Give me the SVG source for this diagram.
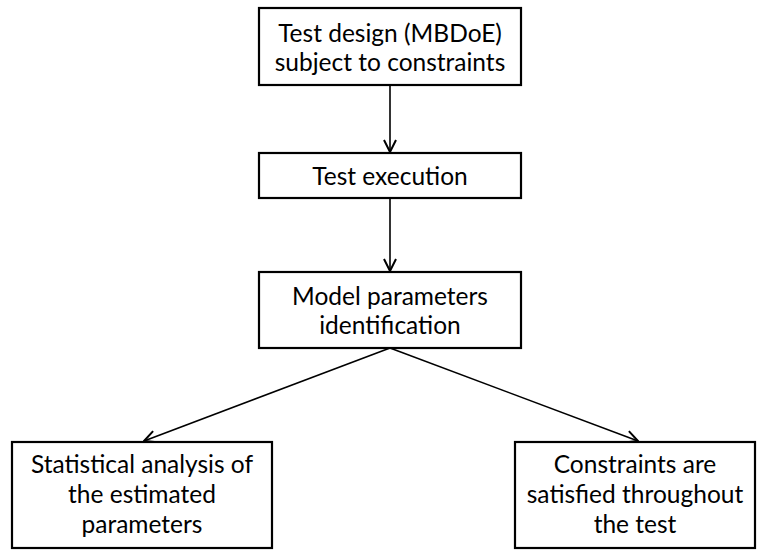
<svg xmlns="http://www.w3.org/2000/svg" width="757" height="550" viewBox="0 0 757 550">
<defs>
<style>
.box{fill:#fff;stroke:#000;stroke-width:2.2}
.t{font-family:Lato,"Open Sans","Liberation Sans",sans-serif;font-size:24.5px;fill:#000;text-anchor:middle}
.c{stroke:#000;stroke-width:1.6;fill:none;marker-end:url(#ah)}
</style>
<marker id="ah" viewBox="0 0 14 14" refX="13" refY="7" markerWidth="14" markerHeight="14" markerUnits="userSpaceOnUse" orient="auto">
<path d="M1,1 L13,7 L1,13" fill="none" stroke="#000" stroke-width="2"/>
</marker>
</defs>
<g id="connectors">
<line class="c" x1="390" y1="85" x2="390" y2="152"/>
<line class="c" x1="390" y1="198" x2="390" y2="271"/>
<line class="c" x1="390" y1="348" x2="144" y2="441"/>
<line class="c" x1="390" y1="348" x2="638" y2="441"/>
</g>
<g id="n1">
<rect class="box" x="259" y="8" width="262" height="77"/>
<text class="t" x="390" y="42">Test design (MBDoE)</text>
<text class="t" x="390" y="71">subject to constraints</text>
</g>
<g id="n2">
<rect class="box" x="259" y="153" width="262" height="45"/>
<text class="t" x="390" y="185">Test execution</text>
</g>
<g id="n3">
<rect class="box" x="259" y="272" width="262" height="76"/>
<text class="t" x="390" y="305">Model parameters</text>
<text class="t" x="390" y="334">identification</text>
</g>
<g id="n4">
<rect class="box" x="12" y="442" width="260" height="106"/>
<text class="t" x="142" y="473">Statistical analysis of</text>
<text class="t" x="142" y="503">the estimated</text>
<text class="t" x="142" y="533">parameters</text>
</g>
<g id="n5">
<rect class="box" x="515" y="442" width="240" height="106"/>
<text class="t" x="635" y="473">Constraints are</text>
<text class="t" x="635" y="503">satisfied throughout</text>
<text class="t" x="635" y="533">the test</text>
</g>
</svg>
